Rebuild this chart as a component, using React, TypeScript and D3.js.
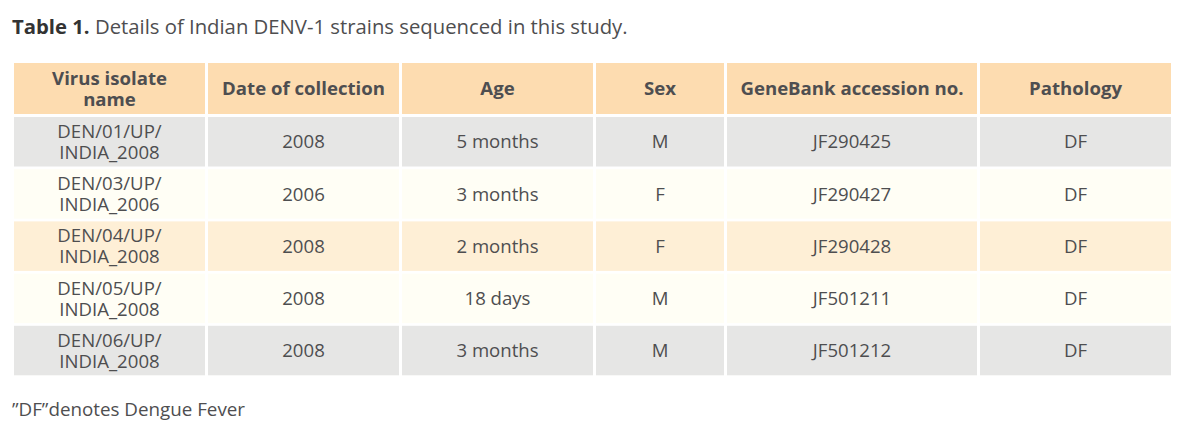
import React from "react";
import * as d3 from "d3";

const headers: string[][] = [["Virus isolate", "name"], ["Date of collection"], ["Age"], ["Sex"], ["GeneBank accession no."], ["Pathology"]];
const isolateNames: string[][] = [
  ["DEN/01/UP/", "INDIA_2008"],
  ["DEN/03/UP/", "INDIA_2006"],
  ["DEN/04/UP/", "INDIA_2008"],
  ["DEN/05/UP/", "INDIA_2008"],
  ["DEN/06/UP/", "INDIA_2008"],
];
const dates: string[] = ["2008", "2006", "2008", "2008", "2008"];
const ages: string[] = ["5 months", "3 months", "2 months", "18 days", "3 months"];
const sexes: string[] = ["M", "F", "F", "M", "M"];
const accessions: string[] = ["JF290425", "JF290427", "JF290428", "JF501211", "JF501212"];
const pathologies: string[] = ["DF", "DF", "DF", "DF", "DF"];

const titleBold = "Table 1.";
const titleRest = " Details of Indian DENV-1 strains sequenced in this study.";
const footnote = "\u201DDF\u201Ddenotes Dengue Fever";

const W = 1181;
const H = 426;
const colWidths = [191, 191, 191, 128, 250, 191];
const gap = 3;
const left = 14;
const headerTop = 63;
const headerH = 51;
const rowTop = 117;
const rowPitch = 52.2;
const rowH = 49.5;
const rowColors = ["#e6e6e5", "#fffef5", "#feefd6", "#fffef5", "#e6e6e5"];
const headerColor = "#fddcb0";
const textColor = "#4e4e50";
const font = "'Open Sans', 'Noto Sans', sans-serif";

export default function App() {
  const colX: number[] = [];
  let acc = left;
  colWidths.forEach((w) => {
    colX.push(acc);
    acc += w + gap;
  });
  const rows = isolateNames.map((n, i) => [n, [dates[i]], [ages[i]], [sexes[i]], [accessions[i]], [pathologies[i]]]);
  const y = d3.scaleLinear().domain([0, 1]).range([rowTop, rowTop + rowPitch]);

  const renderLines = (lines: string[], cx: number, cy: number, bold: boolean, key: string) => {
    const lh = 21;
    const start = cy - ((lines.length - 1) * lh) / 2 + 6.7;
    return (
      <text key={key} x={cx} textAnchor="middle" fontFamily={font} fontSize={18.6} fontWeight={bold ? 700 : 400} fill={textColor}>
        {lines.map((l, j) => (
          <tspan key={j} x={cx} y={start + j * lh}>{l}</tspan>
        ))}
      </text>
    );
  };

  return (
    <svg width={W} height={H} style={{ position: "absolute", left: 0, top: 0, background: "#fff" }}>
      <text x={12} y={34} fontFamily={font} fontSize={20.3} fill={textColor}>
        <tspan fontWeight={700} fill="#333">{titleBold}</tspan>
        <tspan>{titleRest}</tspan>
      </text>
      {headers.map((h, c) => (
        <g key={"h" + c}>
          <rect x={colX[c]} y={headerTop} width={colWidths[c]} height={headerH} fill={headerColor} />
          {renderLines(h, colX[c] + colWidths[c] / 2, headerTop + headerH / 2, true, "ht" + c)}
        </g>
      ))}
      {rows.map((r, i) => (
        <g key={"r" + i}>
          {r.map((cell, c) => (
            <g key={c}>
              <rect x={colX[c]} y={y(i)} width={colWidths[c]} height={rowH} fill={rowColors[i]} />
              {renderLines(cell, colX[c] + colWidths[c] / 2, y(i) + rowH / 2, false, "t" + c)}
            </g>
          ))}
        </g>
      ))}
      <text x={12} y={416} fontFamily={font} fontSize={18.8} fill={textColor}>{footnote}</text>
    </svg>
  );
}
